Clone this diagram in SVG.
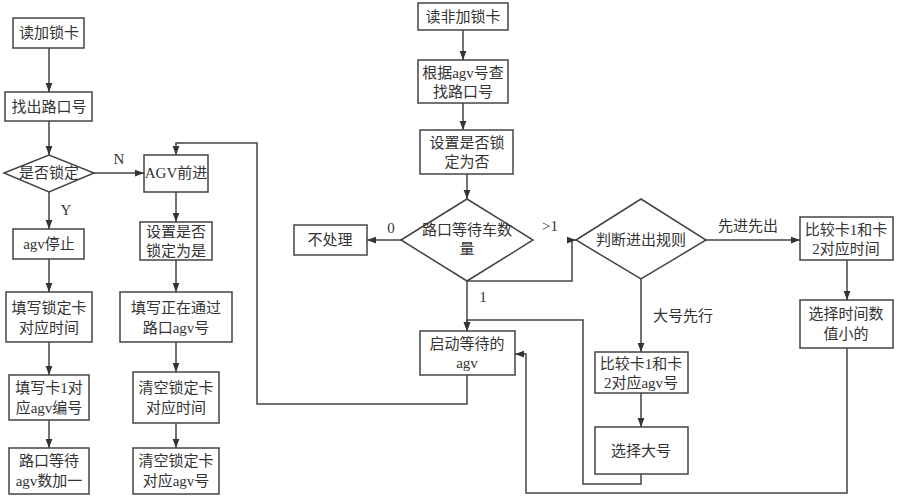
<svg xmlns="http://www.w3.org/2000/svg" width="897" height="500" viewBox="0 0 897 500">
<style>
.b{fill:#fff;stroke:#444;stroke-width:1.5}
.l{fill:none;stroke:#444;stroke-width:1.5}
text{font-family:"Liberation Serif","Noto Sans CJK SC",serif;font-size:15px;fill:#333;text-anchor:middle}
</style>
<defs><marker id="a" viewBox="0 0 8 8" refX="8" refY="4" markerWidth="6" markerHeight="6" orient="auto"><path d="M0,1 L8,4 L0,7z" fill="#333"/></marker></defs>
<rect width="897" height="500" fill="#fff"/>
<g id="connectors" class="l" marker-end="url(#a)">
<path d="M49,48V92"/><path d="M49,121V155"/><path d="M94,173H144"/><path d="M49,192V229"/>
<path d="M49,259V292"/><path d="M49,342V375"/><path d="M49,420V448"/>
<path d="M176,192V222"/><path d="M176,260V292"/><path d="M176,342V372"/><path d="M176,423V448"/>
<path d="M467,375V404H257V143H176V155"/>
<path d="M463,30V60"/><path d="M463,103V130"/><path d="M467,174V199"/>
<path d="M401,240H367"/>
<path d="M467,281H572V240H576"/>
<path d="M467,281V331"/>
<path d="M706,240H800"/><path d="M847,260V300"/>
<path d="M641,279V352"/><path d="M641,393V427"/>
<path d="M641,474V484H583V320H467V331"/>
<path d="M847,348V493H526V354H515"/>
</g>
<g id="n1"><rect class="b" x="13" y="18" width="71" height="30"/><text x="49" y="38">读加锁卡</text></g>
<g id="n2"><rect class="b" x="5" y="92" width="87" height="29"/><text x="49" y="112">找出路口号</text></g>
<g id="n3"><path class="b" d="M4,173L49,155L94,173L49,192Z"/><text x="49" y="178">是否锁定</text></g>
<g id="n4"><rect class="b" x="13" y="229" width="71" height="30"/><text x="49" y="249">agv停止</text></g>
<g id="n5"><rect class="b" x="6" y="292" width="86" height="50"/><text x="49" y="313">填写锁定卡</text><text x="49" y="333">对应时间</text></g>
<g id="n6"><rect class="b" x="9" y="375" width="80" height="45"/><text x="49" y="393">填写卡1对</text><text x="49" y="413">应agv编号</text></g>
<g id="n7"><rect class="b" x="9" y="448" width="80" height="46"/><text x="49" y="466">路口等待</text><text x="49" y="486">agv数加一</text></g>
<g id="n8"><rect class="b" x="144" y="155" width="64" height="37"/><text x="176" y="178">AGV前进</text></g>
<g id="n9"><rect class="b" x="140" y="222" width="72" height="38"/><text x="176" y="237">设置是否</text><text x="176" y="256">锁定为是</text></g>
<g id="n10"><rect class="b" x="120" y="292" width="112" height="50"/><text x="176" y="313">填写正在通过</text><text x="176" y="333">路口agv号</text></g>
<g id="n11"><rect class="b" x="133" y="372" width="86" height="51"/><text x="176" y="393">清空锁定卡</text><text x="176" y="413">对应时间</text></g>
<g id="n12"><rect class="b" x="133" y="448" width="86" height="46"/><text x="176" y="466">清空锁定卡</text><text x="176" y="486">对应agv号</text></g>
<g id="n13"><rect class="b" x="418" y="3" width="90" height="27"/><text x="463" y="22">读非加锁卡</text></g>
<g id="n14"><rect class="b" x="418" y="60" width="90" height="43"/><text x="463" y="78">根据agv号查</text><text x="463" y="97">找路口号</text></g>
<g id="n15"><rect class="b" x="420" y="130" width="93" height="44"/><text x="467" y="148">设置是否锁</text><text x="467" y="167">定为否</text></g>
<g id="n16"><path class="b" d="M401,240L467,199L533,240L467,281Z"/><text x="467" y="235">路口等待车数</text><text x="467" y="254">量</text></g>
<g id="n17"><rect class="b" x="294" y="225" width="73" height="30"/><text x="330" y="245">不处理</text></g>
<g id="n18"><path class="b" d="M576,240L641,199L706,240L641,279Z"/><text x="641" y="245">判断进出规则</text></g>
<g id="n19"><rect class="b" x="420" y="331" width="95" height="44"/><text x="467" y="349">启动等待的</text><text x="467" y="368">agv</text></g>
<g id="n20"><rect class="b" x="800" y="217" width="93" height="43"/><text x="846" y="235">比较卡1和卡</text><text x="846" y="254">2对应时间</text></g>
<g id="n21"><rect class="b" x="800" y="300" width="93" height="48"/><text x="846" y="319">选择时间数</text><text x="846" y="339">值小的</text></g>
<g id="n22"><rect class="b" x="595" y="352" width="93" height="41"/><text x="641" y="369">比较卡1和卡</text><text x="641" y="388">2对应agv号</text></g>
<g id="n23"><rect class="b" x="595" y="427" width="93" height="47"/><text x="641" y="456">选择大号</text></g>
<g id="labels">
<text x="119" y="164">N</text><text x="66" y="215">Y</text>
<text x="391" y="233">0</text><text x="550" y="231">&gt;1</text><text x="483" y="302">1</text>
<text x="748" y="231">先进先出</text><text x="683" y="321">大号先行</text>
</g>
</svg>
